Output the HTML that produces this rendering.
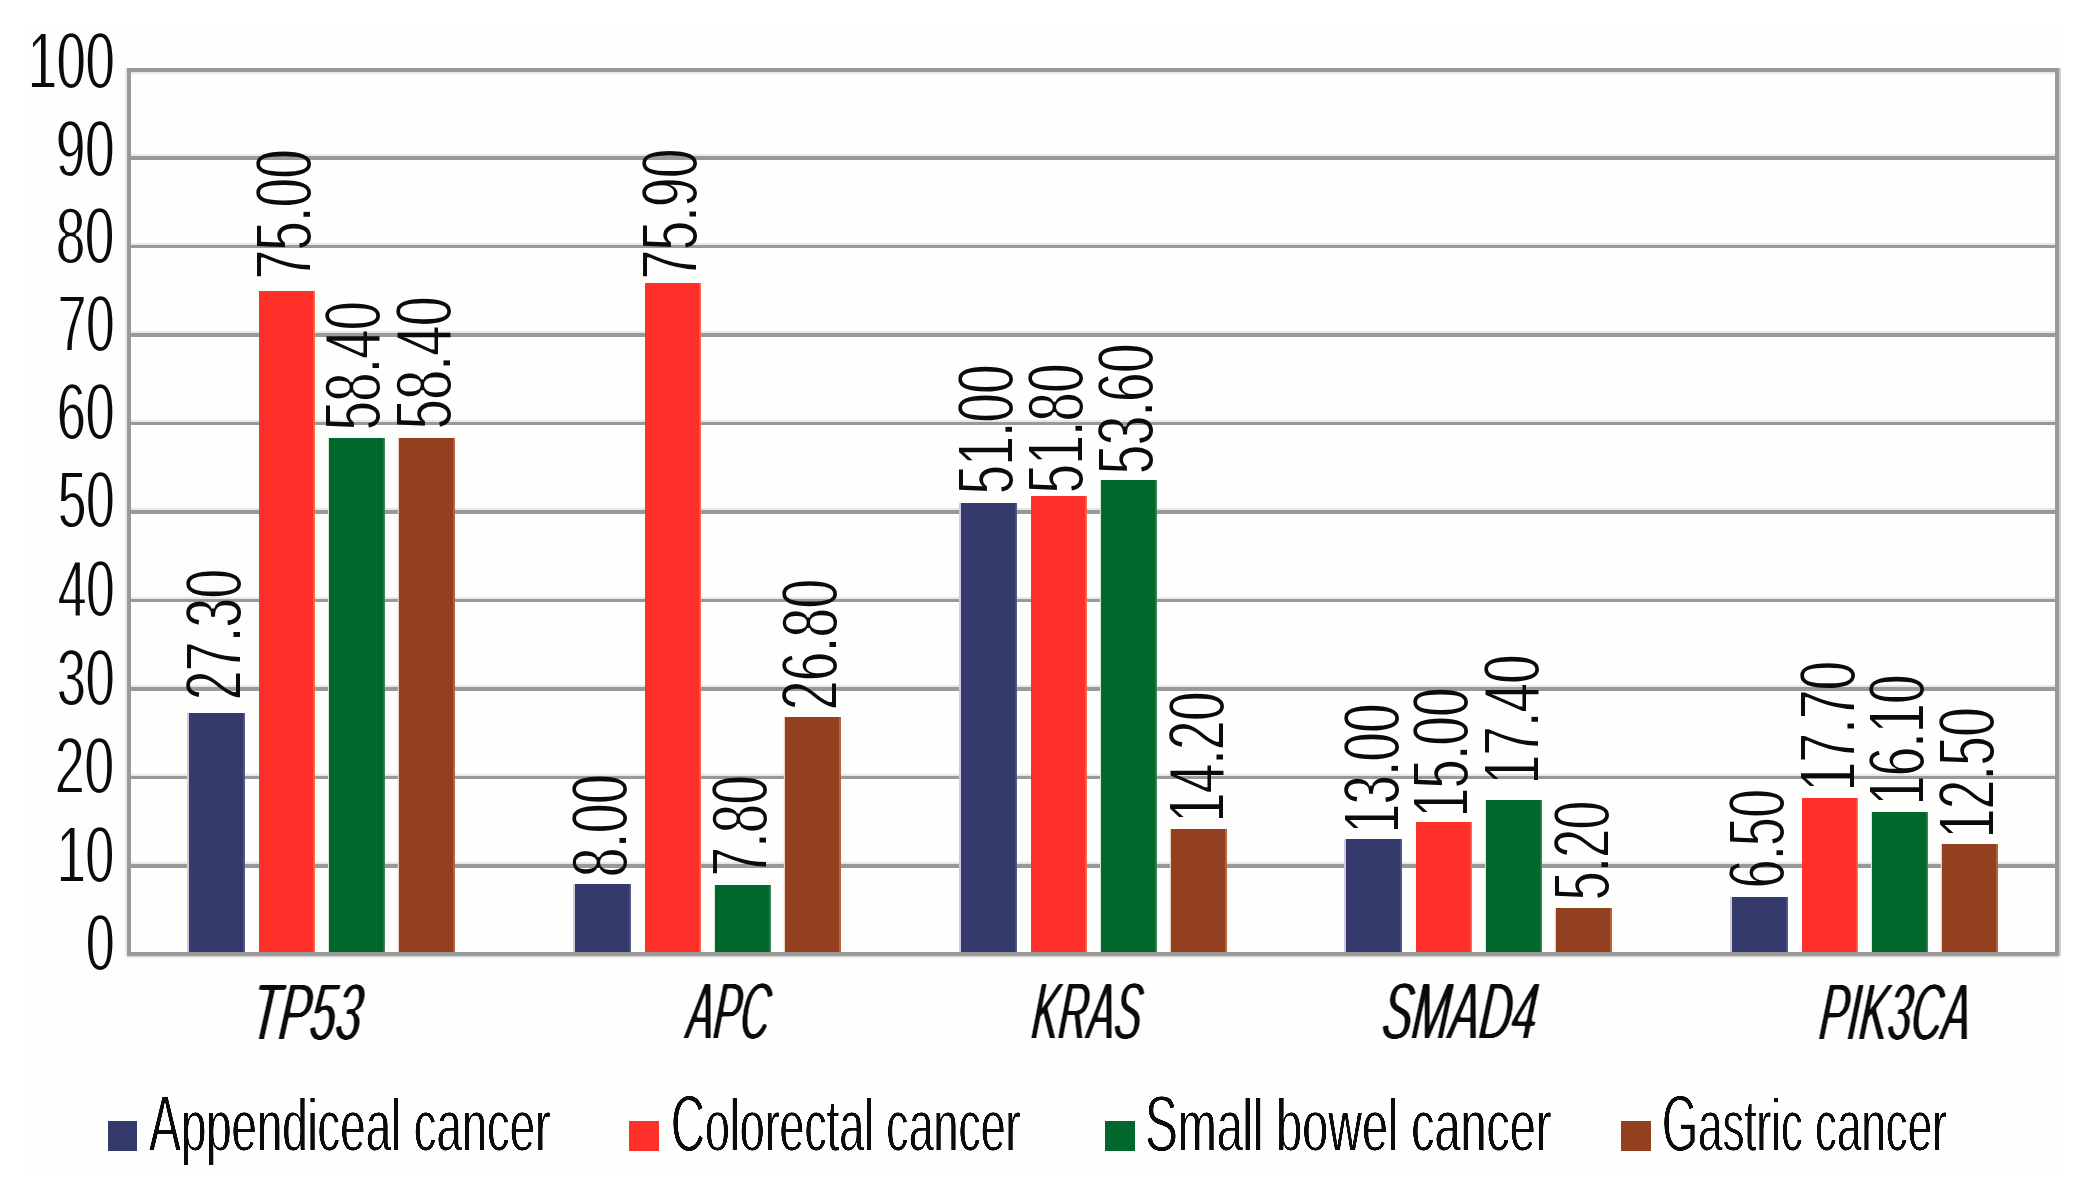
<!DOCTYPE html>
<html lang="en"><head><meta charset="utf-8"><title>Gene mutation frequency by cancer type</title>
<style>
html,body{margin:0;padding:0;background:#fff}
body{width:2077px;height:1179px;position:relative;overflow:hidden}
#chart{position:absolute;left:27px;top:23px;width:2035px;height:1152px;background:#fefefc}
.gl{position:absolute;left:129.05px;width:1928.25px;height:3.7px;background:#999999;box-shadow:0 -2px 0 #e8e8e6}
.b{position:absolute}
.f{position:absolute;background:#999999}
.k{position:absolute;top:1120.9px;width:29.6px;height:29.8px}
.t{position:absolute;white-space:nowrap;line-height:1;font-family:"Liberation Sans",sans-serif;font-size:79px;color:#0b0b0b;transform-origin:0 0}
.i{font-style:italic;font-size:81px}
.g{font-size:75px}
.g::first-letter{font-size:79px}
.L{position:absolute;left:0;top:0;width:2077px}
</style></head>
<body>
<svg width="0" height="0" style="position:absolute"><defs><filter id="fn" filterUnits="userSpaceOnUse" x="0" y="0" width="2077" height="1179" color-interpolation-filters="sRGB"><feMorphology operator="erode" radius="0 1"/><feGaussianBlur stdDeviation="0.5"/></filter><filter id="fi" filterUnits="userSpaceOnUse" x="0" y="0" width="2077" height="1179" color-interpolation-filters="sRGB"><feMorphology operator="erode" radius="0 1"/><feGaussianBlur stdDeviation="0.8 0"/><feComponentTransfer><feFuncA type="linear" slope="2.2" intercept="-0.160"/></feComponentTransfer><feGaussianBlur stdDeviation="0.5"/></filter><filter id="fg" filterUnits="userSpaceOnUse" x="0" y="0" width="2077" height="1179" color-interpolation-filters="sRGB"><feMorphology operator="erode" radius="0 1"/><feGaussianBlur stdDeviation="0.6 0"/><feComponentTransfer><feFuncA type="linear" slope="2.2" intercept="-0.380"/></feComponentTransfer><feGaussianBlur stdDeviation="0.5"/></filter><filter id="fv" filterUnits="userSpaceOnUse" x="0" y="0" width="2077" height="1179" color-interpolation-filters="sRGB"><feMorphology operator="erode" radius="1 0"/><feGaussianBlur stdDeviation="0.5"/></filter></defs></svg>
<div id="chart"></div>
<div class="L" style="height:1179px;filter:blur(0.4px)">
<div class="gl" style="top:863.99px"></div>
<div class="gl" style="top:775.54px"></div>
<div class="gl" style="top:687.08px"></div>
<div class="gl" style="top:598.63px"></div>
<div class="gl" style="top:510.17px"></div>
<div class="gl" style="top:421.72px"></div>
<div class="gl" style="top:333.26px"></div>
<div class="gl" style="top:244.81px"></div>
<div class="gl" style="top:156.36px"></div>
<div class="f" style="left:127.00px;top:67.90px;width:1932.35px;height:3.7px;box-shadow:0 2.2px 0 #e8e8e6"></div>
<div class="f" style="left:127.00px;top:952.45px;width:1932.35px;height:3.7px;box-shadow:0 1.5px 1.5px #d4d4d2"></div>
<div class="f" style="left:127.00px;top:67.90px;width:4.1px;height:888.25px;box-shadow:-1.9px 0 0 #e8e8e6"></div>
<div class="f" style="left:2055.25px;top:67.90px;width:4.1px;height:888.25px;box-shadow:2px 0 0 #cfcfcf"></div>
<div class="b" style="left:189.0px;top:712.8px;width:56.0px;height:239.48px;background:#343a6c;box-shadow:-2px 0 0 #d3c9dd,inset -1.7px 0 0 #57598a"></div>
<div class="b" style="left:259.0px;top:290.9px;width:56.0px;height:661.41px;background:#ff302a;box-shadow:inset -1.6px 0 0 #ff6a4c"></div>
<div class="b" style="left:329.0px;top:437.7px;width:56.0px;height:514.58px;background:#00682c;box-shadow:inset -1.6px 0 0 #3e8355,-1px 0 0 #d9e6da"></div>
<div class="b" style="left:399.0px;top:437.7px;width:56.0px;height:514.58px;background:#934021;box-shadow:inset -2px 0 0 #b4633c,-1.2px 0 0 #ecd2c2"></div>
<div class="b" style="left:574.8px;top:883.5px;width:56.0px;height:68.76px;background:#343a6c;box-shadow:-2px 0 0 #d3c9dd,inset -1.7px 0 0 #57598a"></div>
<div class="b" style="left:644.8px;top:282.9px;width:56.0px;height:669.37px;background:#ff302a;box-shadow:inset -1.6px 0 0 #ff6a4c"></div>
<div class="b" style="left:714.8px;top:885.3px;width:56.0px;height:66.99px;background:#00682c;box-shadow:inset -1.6px 0 0 #3e8355,-1px 0 0 #d9e6da"></div>
<div class="b" style="left:784.8px;top:717.2px;width:56.0px;height:235.06px;background:#934021;box-shadow:inset -2px 0 0 #b4633c,-1.2px 0 0 #ecd2c2"></div>
<div class="b" style="left:960.5px;top:503.2px;width:56.0px;height:449.12px;background:#343a6c;box-shadow:-2px 0 0 #d3c9dd,inset -1.7px 0 0 #57598a"></div>
<div class="b" style="left:1030.5px;top:496.1px;width:56.0px;height:456.20px;background:#ff302a;box-shadow:inset -1.6px 0 0 #ff6a4c"></div>
<div class="b" style="left:1100.5px;top:480.2px;width:56.0px;height:472.12px;background:#00682c;box-shadow:inset -1.6px 0 0 #3e8355,-1px 0 0 #d9e6da"></div>
<div class="b" style="left:1170.5px;top:828.7px;width:56.0px;height:123.61px;background:#934021;box-shadow:inset -2px 0 0 #b4633c,-1.2px 0 0 #ecd2c2"></div>
<div class="b" style="left:1346.2px;top:839.3px;width:56.0px;height:112.99px;background:#343a6c;box-shadow:-2px 0 0 #d3c9dd,inset -1.7px 0 0 #57598a"></div>
<div class="b" style="left:1416.2px;top:821.6px;width:56.0px;height:130.68px;background:#ff302a;box-shadow:inset -1.6px 0 0 #ff6a4c"></div>
<div class="b" style="left:1486.2px;top:800.4px;width:56.0px;height:151.91px;background:#00682c;box-shadow:inset -1.6px 0 0 #3e8355,-1px 0 0 #d9e6da"></div>
<div class="b" style="left:1556.2px;top:908.3px;width:56.0px;height:44.00px;background:#934021;box-shadow:inset -2px 0 0 #b4633c,-1.2px 0 0 #ecd2c2"></div>
<div class="b" style="left:1732.0px;top:896.8px;width:56.0px;height:55.50px;background:#343a6c;box-shadow:-2px 0 0 #d3c9dd,inset -1.7px 0 0 #57598a"></div>
<div class="b" style="left:1802.0px;top:797.7px;width:56.0px;height:154.57px;background:#ff302a;box-shadow:inset -1.6px 0 0 #ff6a4c"></div>
<div class="b" style="left:1872.0px;top:811.9px;width:56.0px;height:140.41px;background:#00682c;box-shadow:inset -1.6px 0 0 #3e8355,-1px 0 0 #d9e6da"></div>
<div class="b" style="left:1942.0px;top:843.7px;width:56.0px;height:108.57px;background:#934021;box-shadow:inset -2px 0 0 #b4633c,-1.2px 0 0 #ecd2c2"></div>
<div class="k" style="left:107.5px;background:#343a6c"></div>
<div class="k" style="left:629.3px;background:#ff302a"></div>
<div class="k" style="left:1105.1px;background:#00682c"></div>
<div class="k" style="left:1621.1px;background:#934021"></div>
</div>
<div class="L" style="height:1179px;filter:url(#fn)">
<div class="t n" style="left:28.06px;top:20.80px;transform:scale(0.6559,1)">100</div>
<div class="t n" style="left:55.88px;top:109.20px;transform:scale(0.6644,1)">90</div>
<div class="t n" style="left:56.03px;top:196.20px;transform:scale(0.6626,1)">80</div>
<div class="t n" style="left:57.83px;top:283.80px;transform:scale(0.6414,1)">70</div>
<div class="t n" style="left:56.89px;top:371.80px;transform:scale(0.6525,1)">60</div>
<div class="t n" style="left:57.73px;top:460.40px;transform:scale(0.6426,1)">50</div>
<div class="t n" style="left:57.73px;top:548.70px;transform:scale(0.6426,1)">40</div>
<div class="t n" style="left:56.67px;top:638.20px;transform:scale(0.6550,1)">30</div>
<div class="t n" style="left:55.34px;top:726.40px;transform:scale(0.6707,1)">20</div>
<div class="t n" style="left:57.10px;top:814.90px;transform:scale(0.6500,1)">10</div>
<div class="t n" style="left:85.75px;top:903.30px;transform:scale(0.6487,1)">0</div>
</div>
<div class="L" style="height:1179px;filter:url(#fi)">
<div class="t i" style="left:257.09px;top:971.60px;transform:scale(0.5681,1) skewX(-11deg)">TP53</div>
<div class="t i" style="left:691.79px;top:971.00px;transform:scale(0.4943,1) skewX(-11deg)">APC</div>
<div class="t i" style="left:1036.97px;top:971.20px;transform:scale(0.4961,1) skewX(-11deg)">KRAS</div>
<div class="t i" style="left:1388.12px;top:971.40px;transform:scale(0.5522,1) skewX(-11deg)">SMAD4</div>
<div class="t i" style="left:1824.84px;top:971.60px;transform:scale(0.5221,1) skewX(-11deg)">PIK3CA</div>
</div>
<div class="L" style="height:1179px;filter:url(#fg)">
<div class="t g" style="left:148.99px;top:1083.70px;transform:scale(0.6067,1)">Appendiceal cancer</div>
<div class="t g" style="left:670.72px;top:1083.70px;transform:scale(0.5959,1)">Colorectal cancer</div>
<div class="t g" style="left:1145.11px;top:1083.70px;transform:scale(0.6221,1)">Small bowel cancer</div>
<div class="t g" style="left:1661.86px;top:1083.70px;transform:scale(0.5853,1)">Gastric cancer</div>
</div>
<div class="L" style="height:1179px;filter:url(#fv)">
<div class="t n" style="left:173.50px;top:700.23px;transform:rotate(-90deg) scale(0.6624,1)">27.30</div>
<div class="t n" style="left:244.20px;top:278.72px;transform:rotate(-90deg) scale(0.6546,1)">75.00</div>
<div class="t n" style="left:313.00px;top:430.31px;transform:rotate(-90deg) scale(0.6509,1)">58.40</div>
<div class="t n" style="left:384.30px;top:429.48px;transform:rotate(-90deg) scale(0.6698,1)">58.40</div>
<div class="t n" style="left:559.70px;top:877.09px;transform:rotate(-90deg) scale(0.6670,1)">8.00</div>
<div class="t n" style="left:629.70px;top:278.73px;transform:rotate(-90deg) scale(0.6577,1)">75.90</div>
<div class="t n" style="left:700.10px;top:875.81px;transform:rotate(-90deg) scale(0.6526,1)">7.80</div>
<div class="t n" style="left:769.90px;top:710.13px;transform:rotate(-90deg) scale(0.6618,1)">26.80</div>
<div class="t n" style="left:945.50px;top:494.02px;transform:rotate(-90deg) scale(0.6541,1)">51.00</div>
<div class="t n" style="left:1015.90px;top:492.52px;transform:rotate(-90deg) scale(0.6541,1)">51.80</div>
<div class="t n" style="left:1085.60px;top:474.14px;transform:rotate(-90deg) scale(0.6588,1)">53.60</div>
<div class="t n" style="left:1156.50px;top:822.25px;transform:rotate(-90deg) scale(0.6584,1)">14.20</div>
<div class="t n" style="left:1331.70px;top:833.22px;transform:rotate(-90deg) scale(0.6536,1)">13.00</div>
<div class="t n" style="left:1401.40px;top:816.92px;transform:rotate(-90deg) scale(0.6536,1)">15.00</div>
<div class="t n" style="left:1471.50px;top:784.22px;transform:rotate(-90deg) scale(0.6536,1)">17.40</div>
<div class="t n" style="left:1542.40px;top:900.08px;transform:rotate(-90deg) scale(0.6437,1)">5.20</div>
<div class="t n" style="left:1717.00px;top:888.27px;transform:rotate(-90deg) scale(0.6423,1)">6.50</div>
<div class="t n" style="left:1787.60px;top:790.74px;transform:rotate(-90deg) scale(0.6568,1)">17.70</div>
<div class="t n" style="left:1857.40px;top:805.05px;transform:rotate(-90deg) scale(0.6584,1)">16.10</div>
<div class="t n" style="left:1927.20px;top:838.26px;transform:rotate(-90deg) scale(0.6594,1)">12.50</div>
</div>
</body></html>
